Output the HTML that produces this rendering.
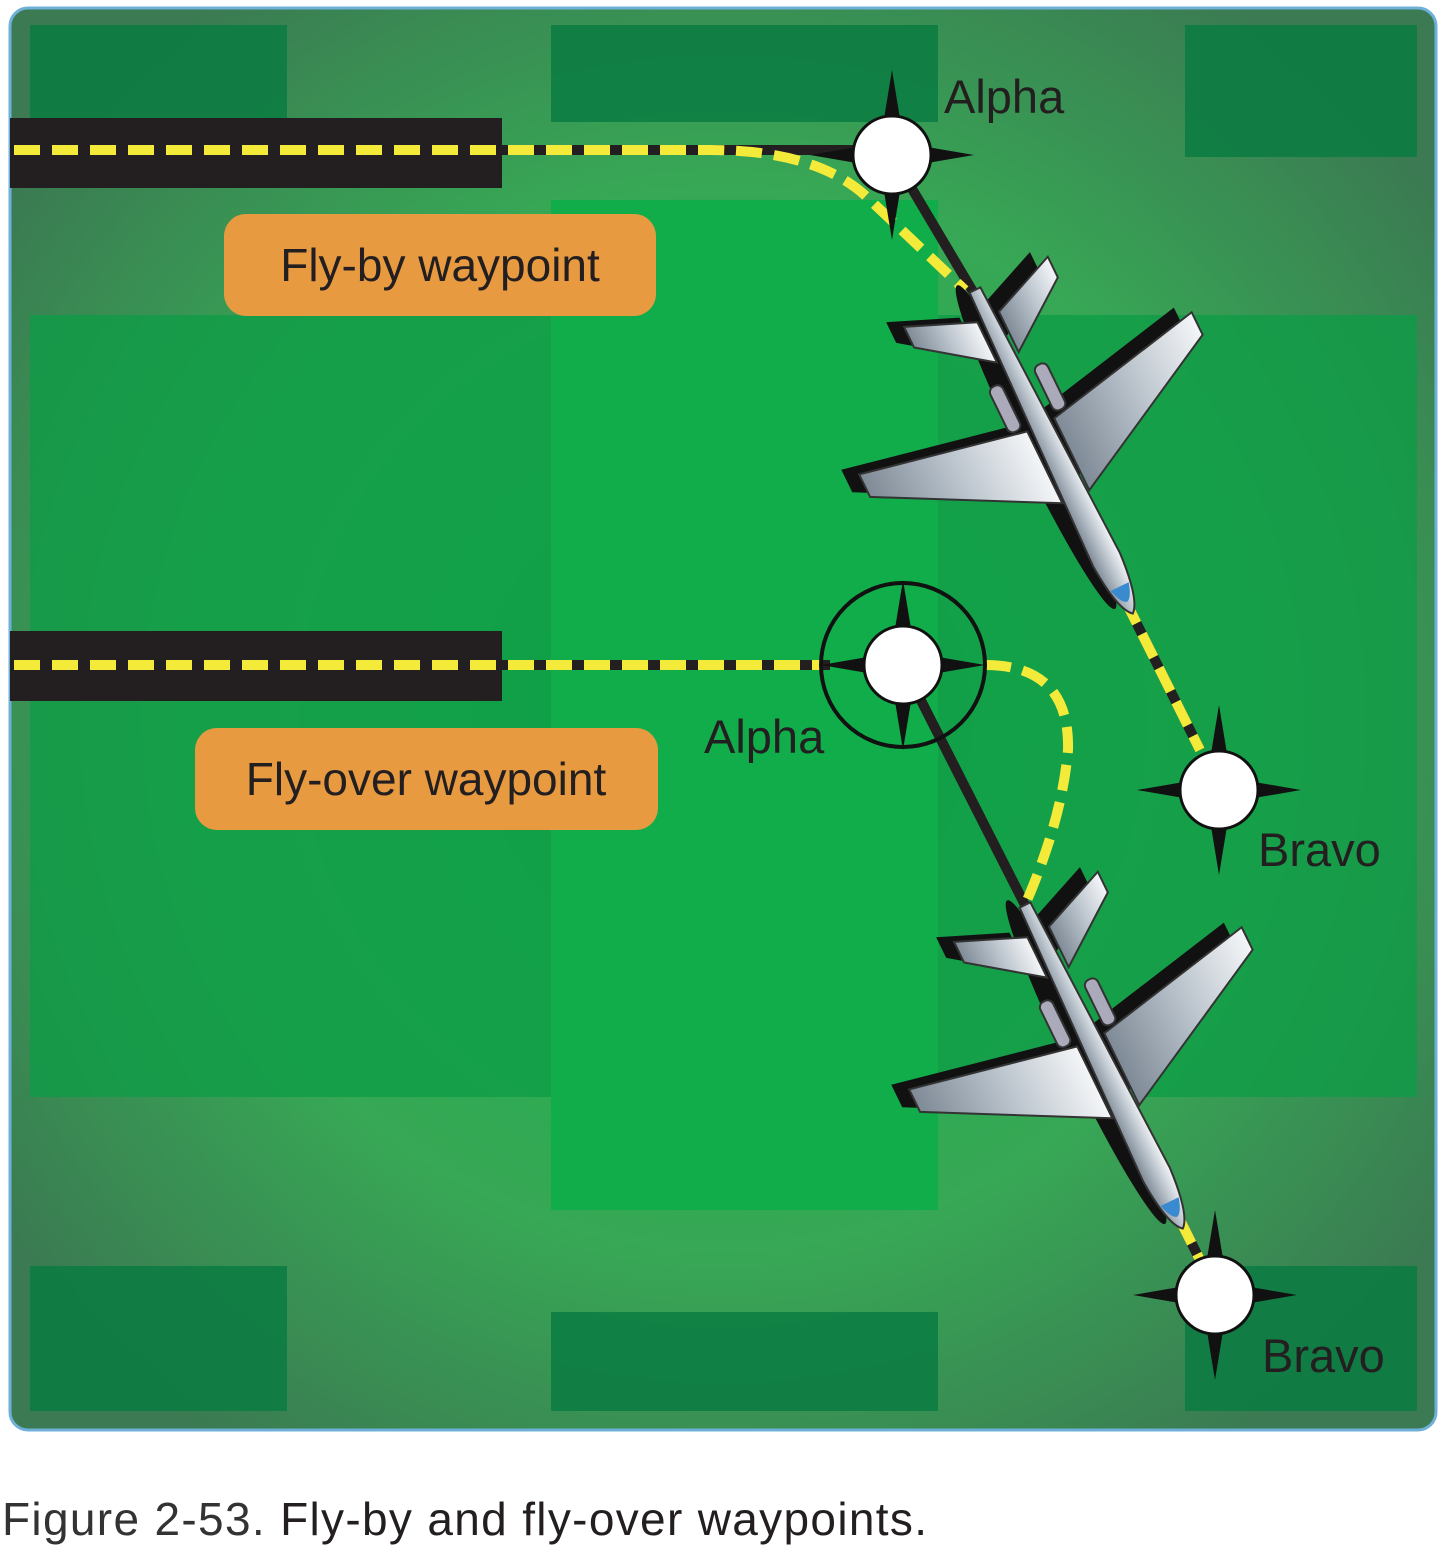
<!DOCTYPE html>
<html><head><meta charset="utf-8"><style>
body{margin:0;background:#fff;width:1444px;height:1552px;overflow:hidden;font-family:"Liberation Sans",sans-serif}
</style></head><body>
<svg width="1444" height="1552" viewBox="0 0 1444 1552" xmlns="http://www.w3.org/2000/svg">
<defs>
<radialGradient id="bg" cx="0.5" cy="0.5" r="0.62">
<stop offset="0" stop-color="#12b04c"/><stop offset="0.6" stop-color="#37a855"/><stop offset="1" stop-color="#3b7a52"/>
</radialGradient>
<linearGradient id="metal" x1="0" y1="0" x2="0" y2="1">
<stop offset="0" stop-color="#f4f6f8"/><stop offset="0.5" stop-color="#b9c2cb"/><stop offset="1" stop-color="#7e8a96"/>
</linearGradient>
<g id="plane">
<g transform="translate(-12,14)" fill="#111">
<polygon points="230,15 140,185 115,185 150,15"/><polygon points="230,-15 140,-185 115,-185 150,-15"/>
<polygon points="75,12 25,80 2,80 30,12"/><polygon points="75,-12 25,-80 2,-80 30,-12"/>
<ellipse cx="180" cy="0" rx="180" ry="17"/>
</g>
<polygon points="230,15 140,185 115,185 150,15" fill="url(#metal)" stroke="#333" stroke-width="2"/>
<polygon points="230,-15 140,-185 115,-185 150,-15" fill="url(#metal)" stroke="#333" stroke-width="2"/>
<polygon points="75,12 25,80 2,80 30,12" fill="url(#metal)" stroke="#333" stroke-width="2"/>
<polygon points="75,-12 25,-80 2,-80 30,-12" fill="url(#metal)" stroke="#333" stroke-width="2"/>
<rect x="95" y="18" width="50" height="14" rx="6" fill="#aab" stroke="#333" stroke-width="2"/>
<rect x="95" y="-32" width="50" height="14" rx="6" fill="#aab" stroke="#333" stroke-width="2"/>
<path d="M0,-6 L300,-15 Q350,-12 360,0 Q350,12 300,15 L0,6 Z" fill="url(#metal)" stroke="#333" stroke-width="2"/>
<path d="M330,-10 Q345,-6 347,0 Q345,6 330,10 Z" fill="#3a8ad0"/>
</g>
<g id="wp">
<polygon points="0,-85 12,-12 82,0 12,12 0,85 -12,12 -82,0 -12,-12" fill="#111"/>
<circle r="39" fill="#fff" stroke="#111" stroke-width="3"/>
</g>
</defs>
<rect x="10" y="8" width="1426" height="1422" rx="18" fill="url(#bg)" stroke="#6fb0d8" stroke-width="3"/>
<g fill="#0a7b42" opacity="0.85">
<rect x="30" y="25" width="257" height="97"/><rect x="551" y="25" width="387" height="97"/><rect x="1185" y="25" width="232" height="132"/>
<rect x="30" y="1266" width="257" height="145"/><rect x="551" y="1312" width="387" height="99"/><rect x="1185" y="1266" width="232" height="145"/>
</g>
<rect x="30" y="315" width="1387" height="782" fill="#0c9c46" opacity="0.75"/>
<rect x="551" y="200" width="387" height="1010" fill="#10ad4a"/>
<rect x="10" y="118" width="492" height="70" fill="#231f20"/>
<rect x="10" y="631" width="492" height="70" fill="#231f20"/>
<line x1="502" y1="150" x2="892" y2="150" stroke="#231f20" stroke-width="10"/>
<line x1="892" y1="155" x2="975" y2="295" stroke="#231f20" stroke-width="10"/>
<line x1="502" y1="665" x2="830" y2="665" stroke="#231f20" stroke-width="10"/>
<line x1="903" y1="665" x2="1025" y2="905" stroke="#231f20" stroke-width="10"/>
<line x1="1125" y1="600" x2="1200" y2="750" stroke="#231f20" stroke-width="10"/>
<line x1="1180" y1="1220" x2="1200" y2="1260" stroke="#231f20" stroke-width="10"/>
<g stroke="#f4ea3a" stroke-width="10" fill="none" stroke-dasharray="26,12">
<path d="M14,150 L710,150 Q820,150 870,200 L965,290"/>
<path d="M14,665 L820,665"/>
<path d="M985,665 Q1070,665 1068,750 Q1062,820 1025,905"/>
<path d="M1125,600 L1200,750"/>
<path d="M1180,1220 L1200,1260"/>
</g>
<circle cx="903" cy="665" r="82" fill="none" stroke="#111" stroke-width="4"/>
<use href="#wp" x="892" y="155"/>
<use href="#wp" x="1219" y="790"/>
<use href="#wp" x="903" y="665"/>
<use href="#wp" x="1215" y="1295"/>
<use href="#plane" transform="translate(975,290) rotate(64)"/>
<use href="#plane" transform="translate(1025,905) rotate(64)"/>
<g font-size="47" fill="#231f20">
<text x="944" y="113">Alpha</text>
<text x="704" y="753">Alpha</text>
<text x="1258" y="866">Bravo</text>
<text x="1262" y="1372">Bravo</text>
</g>
<rect x="224" y="214" width="432" height="102" rx="22" fill="#e89a40"/>
<rect x="195" y="728" width="463" height="102" rx="22" fill="#e89a40"/>
<text x="440" y="281" font-size="46" fill="#231f20" text-anchor="middle">Fly-by waypoint</text>
<text x="426" y="795" font-size="46" fill="#231f20" text-anchor="middle">Fly-over waypoint</text>
<text x="2" y="1535" font-size="46" fill="#231f20" textLength="925"><tspan fill="#333">Figure 2-53. </tspan>Fly-by and fly-over waypoints.</text>
</svg>
</body></html>
